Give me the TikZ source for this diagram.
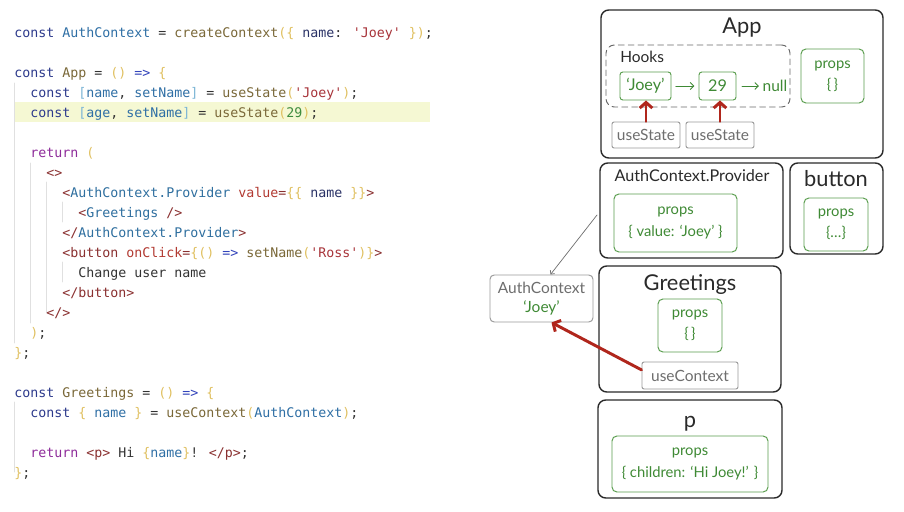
\documentclass[tikz,border=0pt]{standalone}
\usepackage{fontspec}
\setmainfont{Lato}
\newfontfamily\codefont{DejaVu Sans Mono}
\usetikzlibrary{arrows.meta}
\definecolor{boxc}{HTML}{2A2A2A}
\definecolor{grn}{HTML}{3F8A35}
\definecolor{grnl}{HTML}{5A9E4E}
\definecolor{gryb}{HTML}{9A9A9A}
\definecolor{gryt}{HTML}{6E6E6E}
\definecolor{redc}{HTML}{B0261C}
\definecolor{hlc}{HTML}{F5F8D3}
\definecolor{guidec}{HTML}{E0E0E0}
% code colours
\definecolor{kwc}{HTML}{2D3A8C}
\definecolor{varc}{HTML}{2F6FA5}
\definecolor{fnc}{HTML}{7A6838}
\definecolor{brc}{HTML}{E0C060}
\definecolor{strc}{HTML}{A8343A}
\definecolor{numc}{HTML}{3D8B3D}
\definecolor{retc}{HTML}{8E2C9A}
\definecolor{tagc}{HTML}{8A3030}
\definecolor{tnc}{HTML}{2F6F9F}
\definecolor{attc}{HTML}{B23A32}
\definecolor{sqc}{HTML}{7DB6D6}
\definecolor{arrc}{HTML}{3344BB}
\definecolor{pkc}{HTML}{2A3266}
\definecolor{txtc}{HTML}{333333}
\newcommand\ckw[1]{\textcolor{kwc}{#1}}
\newcommand\cvr[1]{\textcolor{varc}{#1}}
\newcommand\cfn[1]{\textcolor{fnc}{#1}}
\newcommand\cbr[1]{\textcolor{brc}{#1}}
\newcommand\cst[1]{\textcolor{strc}{#1}}
\newcommand\cnm[1]{\textcolor{numc}{#1}}
\newcommand\crt[1]{\textcolor{retc}{#1}}
\newcommand\ctg[1]{\textcolor{tagc}{#1}}
\newcommand\ctn[1]{\textcolor{tnc}{#1}}
\newcommand\cat[1]{\textcolor{attc}{#1}}
\newcommand\csq[1]{\textcolor{sqc}{#1}}
\newcommand\car[1]{\textcolor{arrc}{#1}}
\newcommand\cpk[1]{\textcolor{pkc}{#1}}
\tikzset{
	codeline/.style={anchor=west,inner sep=0,text height=9.5pt,text depth=2pt,text=txtc,
		font=\codefont\fontsize{9.45}{11}\selectfont},
	comp/.style={draw=boxc,line width=1pt,rounded corners=5.5pt},
	title/.style={anchor=base,inner sep=0,text=boxc,font=\fontsize{15.5}{18}\selectfont},
	propsbox/.style={draw=grnl,line width=0.7pt,rounded corners=3.5pt,text=grn,align=center,
		font=\fontsize{10.5}{15}\selectfont},
	hookval/.style={draw=grnl,line width=0.7pt,rounded corners=2pt,text=grn,
		font=\fontsize{11.5}{14}\selectfont},
	usebox/.style={draw=gryb,line width=0.7pt,rounded corners=1.5pt,text=gryt,
		font=\fontsize{11}{14}\selectfont},
	redarr/.style={draw=redc,line width=2.1pt,-{Straight Barb[length=4pt,width=9pt]}},
	hookarr/.style={draw=grn,line width=0.6pt,-{Straight Barb[length=2.5pt,width=5pt]}},
}
\begin{document}
\begin{tikzpicture}[x=0.025cm,y=-0.025cm,line join=round,line cap=round,>=stealth]
	\def\u{0.025cm}
	\fill[white] (0,0) rectangle (904,512);
	\useasboundingbox (0,0) rectangle (904,512);
	%Code
	\fill[hlc] (14,102) rectangle (430,122);
	\draw[guidec,line width=0.6pt]
	(14,83)--(14,343)
	(30,163)--(30,323)
	(46,182)--(46,313)
	(62,202)--(62,222)
	(62,262)--(62,282)
	(14,402)--(14,472)
	;
	\node[codeline] (c1) at (14,32) {\ckw{const} \cvr{AuthContext} = \cfn{createContext}\cbr{(\{} \cpk{name}: \cst{'Joey'} \cbr{\})};};
	\node[codeline] (c2) at (14,72) {\ckw{const} \cfn{App} = \cbr{()} \car{=>} \cbr{\{}};
	\node[codeline] (c3) at (30,92) {\ckw{const} \csq{[}\cvr{name}, \cvr{setName}\csq{]} = \cfn{useState}\cbr{(}\cst{'Joey'}\cbr{)};};
	\node[codeline] (c4) at (30,112) {\ckw{const} \csq{[}\cvr{age}, \cvr{setName}\csq{]} = \cfn{useState}\cbr{(}\cnm{29}\cbr{)};};
	\node[codeline] (c5) at (30,152) {\crt{return} \cbr{(}};
	\node[codeline] (c6) at (46,172) {\ctg{<>}};
	\node[codeline] (c7) at (62,192) {\ctg{<}\ctn{AuthContext.Provider} \cat{value}\ctg{=}\cbr{\{\{} \cpk{name} \cbr{\}\}}\ctg{>}};
	\node[codeline] (c8) at (78,212) {\ctg{<}\ctn{Greetings} \ctg{/>}};
	\node[codeline] (c9) at (62,232) {\ctg{</}\ctn{AuthContext.Provider}\ctg{>}};
	\node[codeline] (c10) at (62,252) {\ctg{<button} \cat{onClick}\ctg{=}\cbr{\{()} \car{=>} \cfn{setName}\cbr{(}\cst{'Ross'}\cbr{)\}}\ctg{>}};
	\node[codeline] (c11) at (78,272) {Change user name};
	\node[codeline] (c12) at (62,292) {\ctg{</button>}};
	\node[codeline] (c13) at (46,312) {\ctg{</>}};
	\node[codeline] (c14) at (30,332) {\cbr{)};};
	\node[codeline] (c15) at (14,352) {\cbr{\}};};
	\node[codeline] (c16) at (14,392) {\ckw{const} \cfn{Greetings} = \cbr{()} \car{=>} \cbr{\{}};
	\node[codeline] (c17) at (30,412) {\ckw{const} \cbr{\{} \cvr{name} \cbr{\}} = \cfn{useContext}\cbr{(}\cvr{AuthContext}\cbr{)};};
	\node[codeline] (c19) at (30,452) {\crt{return} \ctg{<p>} Hi \cbr{\{}\cvr{name}\cbr{\}}! \ctg{</p>};};
	\node[codeline] (c20) at (14,472) {\cbr{\}};};
	
	%App
	\node[comp,minimum width=282*\u,minimum height=148*\u] (app) at (742,84) {};
	\node[title] (apptitle) at (742,34) {App};
	\node[draw=boxc!70,dashed,dash pattern=on 4pt off 3pt,line width=0.7pt,rounded corners=6pt,
	minimum width=184*\u,minimum height=62*\u] (hooks) at (698,76) {};
	\node[anchor=west,inner sep=0,text=boxc,font=\fontsize{11}{13}\selectfont] (hookslbl) at (620,57) {Hooks};
	\node[hookval,minimum width=51*\u,minimum height=28*\u,inner sep=0] (joey) at (645.5,86) {‘Joey’};
	\node[hookval,minimum width=37*\u,minimum height=28*\u,inner sep=0] (v29) at (717.5,86) {29};
	\node[inner sep=1pt,text=grn,font=\fontsize{11}{13}\selectfont] (null) at (775,86) {null};
	\draw[hookarr,shorten <=3pt,shorten >=3pt] (joey) -- (v29);
	\draw[hookarr,shorten <=4pt,shorten >=1.5pt] (v29) -- (null);
	\node[propsbox,minimum width=63*\u,minimum height=54*\u] (appprops) at (832.5,76) {props\\\{\,\}};
	\node[usebox,minimum width=68*\u,minimum height=26*\u,inner sep=0] (us1) at (646,135) {useState};
	\node[usebox,minimum width=68*\u,minimum height=26*\u,inner sep=0] (us2) at (720,135) {useState};
	\draw[redarr] (us1.north) -- (us1.north |- joey.south);
	\draw[redarr] (us2.north) -- (us2.north |- v29.south);
	
	%AuthContext.Provider, button
	\node[comp,minimum width=183*\u,minimum height=95*\u] (prov) at (691.5,210.5) {};
	\node[title,font=\fontsize{11.5}{14}\selectfont] (provtitle) at (692,182) {AuthContext.Provider};
	\node[propsbox,minimum width=123*\u,minimum height=58*\u] (provprops) at (675.5,223) {props\\\{ value: ‘Joey’ \}};
	\node[comp,minimum width=93*\u,minimum height=91*\u] (btn) at (836.5,208.5) {};
	\node[title] (btntitle) at (836,187) {button};
	\node[propsbox,minimum width=64*\u,minimum height=53*\u] (btnprops) at (836,224.5) {props\\\{…\}};
	
	%Greetings
	\node[comp,minimum width=182*\u,minimum height=126*\u] (greet) at (690,329) {};
	\node[title] (greettitle) at (690,290) {Greetings};
	\node[propsbox,minimum width=64*\u,minimum height=53*\u] (greetprops) at (690,325.5) {props\\\{\,\}};
	\node[usebox,minimum width=96*\u,minimum height=27*\u,inner sep=0] (usectx) at (690,375.5) {useContext};
	
	%p
	\node[comp,minimum width=184*\u,minimum height=98*\u] (pbox) at (690,449) {};
	\node[title] (ptitle) at (690,427) {p};
	\node[propsbox,minimum width=156*\u,minimum height=56*\u] (pprops) at (690,464) {props\\\{ children: ‘Hi Joey!’ \}};
	
	%AuthContext
	\node[draw=gryb,line width=0.7pt,rounded corners=3pt,minimum width=103*\u,minimum height=47*\u,
	align=center,text=gryt,font=\fontsize{11}{14}\selectfont] (authctx) at (541.5,298.5) {AuthContext\\\textcolor{grn}{‘Joey’}};
	\coordinate (provtail) at (597,215);
	\draw[gryt,line width=0.5pt,-{Straight Barb[length=2pt,width=4pt]}] (provtail) -- ([xshift=9*\u]authctx.north);
	\draw[redarr] ([yshift=4pt]usectx.west) -- ([xshift=10*\u]authctx.south);
\end{tikzpicture}
\end{document}
